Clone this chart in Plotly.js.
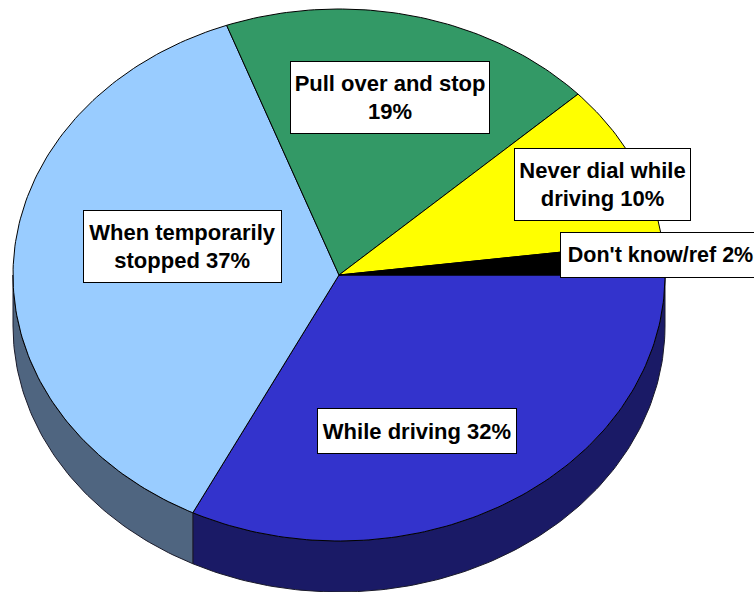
<!DOCTYPE html>
<html><head><meta charset="utf-8">
<script src="https://cdn.plot.ly/plotly-3.0.1.min.js"></script>
<style>html,body{margin:0;padding:0;background:#fff;overflow:hidden}#c{width:754px;height:592px}</style>
</head><body><div id="c"></div>
<script>
const categories = ["While driving","When temporarily stopped","Pull over and stop","Never dial while driving","Don't know/ref"];
const values = [32.4,37,18.7,9.9,2];
const topColors = ["#3333CC","#99CCFF","#339966","#FFFF00","#000000"];
const wallColors = ["#1A1A66","#4F6580","#1A4D33","#808000","#000000"];
const labelTexts = ["While driving 32%","When temporarily<br>stopped 37%","Pull over and stop<br>19%","Never dial while<br>driving 10%","Don't know/ref 2%"];
const labelSizes = [22,22,22,22,21.5];
const labelBoxes = [[317,408,200,46],[83,210,199,73],[290,61,200,73],[514,148,177,73],[560,232,201,46]];

const W=754,H=592,cx=339,cy=275,rx=326,ry=266,depth=51/266;
const total=values.reduce((a,b)=>a+b,0);
function arc(a0,a1){const n=Math.max(2,Math.ceil((a1-a0)*180/Math.PI));const o=[];for(let i=0;i<=n;i++){const t=a0+(a1-a0)*i/n;o.push([Math.cos(t),-Math.sin(t)]);}return o;}
const traces=[],tops=[];let start=0;
categories.forEach((name,i)=>{
  const end=start+values[i]/total*2*Math.PI;
  const a=arc(start,end);
  tops.push({type:'scatter',mode:'lines',name,x:[0,...a.map(p=>p[0]),0],y:[0,...a.map(p=>p[1]),0],fill:'toself',fillcolor:topColors[i],line:{color:'#000',width:1},hoverinfo:'name'});
  const w0=start, w1=Math.min(end,Math.PI);
  if(w1>w0){const f=arc(w0,w1);const xs=f.map(p=>p[0]),ys=f.map(p=>p[1]);
    traces.push({type:'scatter',mode:'lines',name:name+' side',x:[...xs,...xs.slice().reverse(),xs[0]],y:[...ys,...ys.slice().reverse().map(v=>v-depth),ys[0]],fill:'toself',fillcolor:wallColors[i],line:{color:'#1a1a2a',width:1},hoverinfo:'skip'});}
  start=end;
});
const annotations=categories.map((c,i)=>{const b=labelBoxes[i];return{
  text:labelTexts[i],xref:'paper',yref:'paper',x:(b[0]+b[2]/2)/W,y:1-(b[1]+b[3]/2)/H,xanchor:'center',yanchor:'middle',
  width:b[2]-2,height:b[3]-2,bgcolor:'#fff',bordercolor:'#000',borderwidth:1,borderpad:0,showarrow:false,align:'center',
  font:{family:'"Liberation Sans",Arial,sans-serif',size:labelSizes[i],color:'#000',weight:700}};});
Plotly.newPlot('c',[...traces,...tops],{
  width:W,height:H,margin:{l:0,r:0,t:0,b:0},paper_bgcolor:'#fff',plot_bgcolor:'#fff',showlegend:false,
  xaxis:{range:[-cx/rx,(W-cx)/rx],visible:false,fixedrange:true},
  yaxis:{range:[-(H-cy)/ry,cy/ry],visible:false,fixedrange:true},
  annotations
},{displayModeBar:false,staticPlot:true});
</script></body></html>
